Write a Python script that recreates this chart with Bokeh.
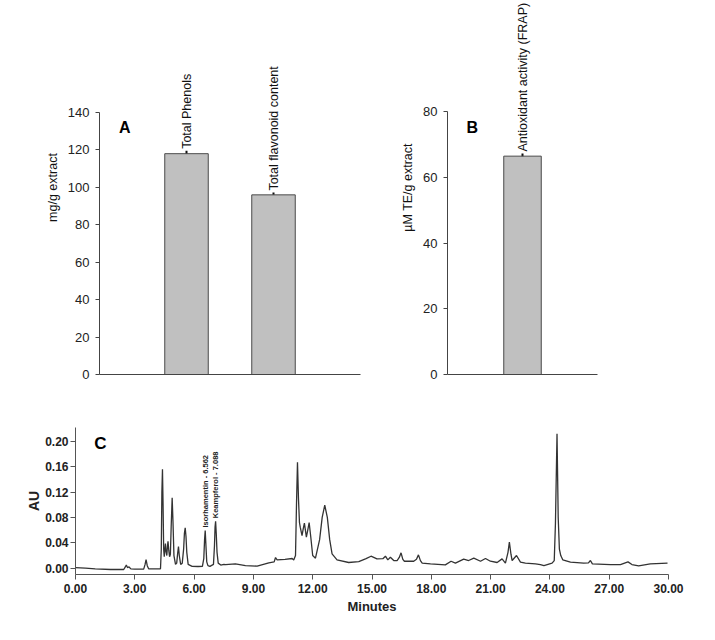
import numpy as np
from bokeh.plotting import figure
from bokeh.layouts import column, row
from bokeh.models import Range1d, FixedTicker, NumeralTickFormatter, Label
from bokeh.core.properties import value
from bokeh.embed import file_html
from bokeh.resources import INLINE

# ---------------- data ----------------
categories_A = ["Total Phenols", "Total flavonoid content"]
values_A = [118.0, 96.0]
errors_A = [1.5, 1.2]
ticks_A = [0, 20, 40, 60, 80, 100, 120, 140]

categories_B = ["Antioxidant activity (FRAP)"]
values_B = [66.5]
errors_B = [0.8]
ticks_B = [0, 20, 40, 60, 80]

rt_min = [0.00, 0.50, 1.00, 1.77, 2.44, 2.52, 2.57, 2.63, 2.71, 2.80, 3.00, 3.45, 3.52, 3.57, 3.63, 3.70, 4.00, 4.30,
          4.34, 4.37, 4.40, 4.43, 4.46, 4.49, 4.52, 4.55, 4.58, 4.62, 4.65, 4.68, 4.72, 4.76, 4.80, 4.84, 4.89, 4.93, 4.98, 5.06,
          5.12, 5.17, 5.21, 5.25, 5.32, 5.40, 5.47, 5.51, 5.55, 5.59, 5.63, 5.70, 5.90, 6.20, 6.42, 6.49, 6.53, 6.562, 6.60, 6.64,
          6.70, 6.80, 6.98, 7.03, 7.06, 7.088, 7.12, 7.16, 7.22, 7.35, 7.51,
          7.59, 8.09, 8.60, 9.19, 9.78, 10.05, 10.12, 10.20, 10.60, 10.96, 11.04, 11.13, 11.18, 11.23, 11.28, 11.33, 11.37,
          11.46, 11.52, 11.58, 11.63, 11.68, 11.75, 11.82, 11.90, 12.00, 12.14, 12.35, 12.48, 12.61, 12.74, 12.86, 12.98, 13.23, 13.82,
          14.33, 14.70, 14.95, 15.25, 15.55, 15.68, 15.80, 15.93, 16.10, 16.27, 16.38, 16.47, 16.56, 16.64, 17.11, 17.25, 17.35,
          17.45, 17.54, 17.96, 18.71, 19.00, 19.22, 19.64, 19.89, 20.15, 20.49, 20.74, 20.99, 21.33, 21.58, 21.75, 21.88, 21.95,
          22.03, 22.09, 22.31, 22.51, 22.76, 23.27, 23.52, 23.70,
          24.11, 24.22, 24.28, 24.36, 24.42, 24.48, 24.55, 24.65, 25.04, 25.71, 25.95, 26.05, 26.15, 27.06, 27.57, 27.95, 28.15,
          28.49, 29.08, 29.95]
au = [0.001, 0.000, -0.001, -0.002, -0.002, 0.002, 0.005, 0.001, 0.002, -0.001, -0.0015, -0.0015, 0.006, 0.0137, 0.004, -0.001, -0.001, -0.001,
      0.030, 0.120, 0.156, 0.100, 0.030, 0.018, 0.030, 0.039, 0.026, 0.020, 0.034, 0.0425, 0.028, 0.018, 0.022, 0.065, 0.111, 0.075, 0.020, 0.006,
      0.008, 0.024, 0.034, 0.020, 0.006, 0.008, 0.030, 0.055, 0.0636, 0.050, 0.025, 0.006, 0.003, 0.0027, 0.003, 0.015, 0.045, 0.0594, 0.035, 0.010,
      0.004, 0.003, 0.006, 0.035, 0.065, 0.074, 0.055, 0.025, 0.008, 0.005, 0.006,
      0.0058, 0.0069, 0.0042, 0.0032, 0.0085, 0.0100, 0.0168, 0.0132, 0.0140, 0.0153, 0.0130, 0.0200, 0.1000, 0.1670, 0.1100, 0.0720, 0.0646,
      0.0515, 0.0620, 0.0709, 0.0600, 0.0489, 0.0600, 0.0720, 0.0500, 0.0200, 0.0158, 0.0450, 0.0800, 0.0992, 0.0800, 0.0450, 0.0226, 0.0132, 0.0090,
      0.0105, 0.0150, 0.0189, 0.0147, 0.0150, 0.0189, 0.0132, 0.0173, 0.0121, 0.0121, 0.0170, 0.0242, 0.0140, 0.0110, 0.0110, 0.0140, 0.0210,
      0.0120, 0.0079, 0.0069, 0.0053, 0.0110, 0.0079, 0.0142, 0.0121, 0.0158, 0.0110, 0.0153, 0.0110, 0.0090, 0.0147, 0.0079, 0.0250, 0.0410,
      0.0220, 0.0121, 0.0200, 0.0095, 0.0079, 0.0069, 0.0058, 0.0042,
      0.0079, 0.0120, 0.0700, 0.2116, 0.0800, 0.0300, 0.0200, 0.0132, 0.0095, 0.0079, 0.0085, 0.0121, 0.0069, 0.0058, 0.0058, 0.0100, 0.0058,
      0.0037, 0.0069, 0.0079]
peak_labels = ["Isorhamentin - 6.562", "Keampferol - 7.088"]
peak_rt = [6.562, 7.088]
ticks_C_x = [0, 3, 6, 9, 12, 15, 18, 21, 24, 27, 30]
ticks_C_y = [0.00, 0.04, 0.08, 0.12, 0.16, 0.20]

FONT = "Liberation Sans"
AXC = "#444444"


def clean(p):
    p.xgrid.visible = False
    p.ygrid.visible = False
    p.outline_line_color = None
    p.background_fill_color = "white"
    p.border_fill_color = "white"


def bar_panel(cats, vals, errs, ticks, ymax, xmax, ylab, letter, letter_xy,
              width, mbl, mbr, txt_size):
    p = figure(width=width, height=390, x_range=Range1d(0, xmax), y_range=Range1d(0, ymax),
               output_backend="svg", toolbar_location=None,
               min_border_left=mbl, min_border_right=mbr, min_border_top=0, min_border_bottom=16)
    clean(p)
    xs = [i + 1 for i in range(len(cats))]
    lo = [v - e for v, e in zip(vals, errs)]
    hi = [v + e for v, e in zip(vals, errs)]
    p.segment(x0=xs, y0=lo, x1=xs, y1=hi, line_color="#111111", line_width=2)
    p.vbar(x=xs, top=vals, bottom=0, width=0.5, fill_color="#c0c0c0", line_color="#4a4a4a", line_width=1)
    p.text(x=xs, y=hi, text=cats, angle=np.pi / 2, text_align="left", text_baseline="middle",
           text_font=value(FONT), text_font_size=txt_size, text_color="#111111", y_offset=-2)
    p.add_layout(Label(x=letter_xy[0], y=letter_xy[1], text=letter, text_font=FONT, text_font_size="16px",
                       text_font_style="bold", text_color="#000000", text_align="center", text_baseline="middle"))
    ya = p.yaxis[0]
    ya.ticker = FixedTicker(ticks=ticks)
    ya.bounds = (0, ticks[-1])
    ya.axis_line_color = AXC
    ya.major_tick_line_color = AXC
    ya.major_tick_out = 4
    ya.major_tick_in = 0
    ya.minor_tick_out = 0
    ya.minor_tick_in = 0
    ya.major_label_text_font = FONT
    ya.major_label_text_font_size = "13px"
    ya.major_label_text_color = "#222222"
    ya.major_label_standoff = 6
    ya.axis_label = ylab
    ya.axis_label_text_font = FONT
    ya.axis_label_text_font_size = "12.5px"
    ya.axis_label_text_font_style = "normal"
    ya.axis_label_text_color = "#111111"
    ya.axis_label_standoff = 5
    xa = p.xaxis[0]
    xa.ticker = FixedTicker(ticks=[])
    xa.major_tick_out = 0
    xa.major_tick_in = 0
    xa.minor_tick_out = 0
    xa.minor_tick_in = 0
    xa.major_label_text_font_size = "0px"
    xa.axis_line_color = AXC
    return p


pA = bar_panel(categories_A, values_A, errors_A, ticks_A, 199.85, 3, "mg/g extract", "A", (0.29, 132),
               372, 99, 12, "12.5px")
pB = bar_panel(categories_B, values_B, errors_B, ticks_B, 113.9, 2, "\u00b5M TE/g extract", "B", (0.33, 75.2),
               328, 75, 103, "12.5px")

# ---------------- panel C ----------------
pC = figure(width=700, height=242, x_range=Range1d(0, 30), y_range=Range1d(-0.0099, 0.2216),
            output_backend="svg", toolbar_location=None,
            min_border_left=75, min_border_right=32, min_border_top=37, min_border_bottom=58)
clean(pC)
pC.line(x=rt_min, y=au, line_color="#333333", line_width=1.3)
peak_h = list(np.interp(peak_rt, rt_min, au))
pC.text(x=peak_rt, y=peak_h, text=peak_labels, angle=np.pi / 2, text_align="left", text_baseline="middle",
        text_font=value(FONT), text_font_size="7.5px", text_font_style="bold", text_color="#222222", y_offset=-3)
pC.add_layout(Label(x=1.26, y=0.196, text="C", text_font=FONT, text_font_size="17px", text_font_style="bold",
                    text_color="#000000", text_align="center", text_baseline="middle"))
CAX = "#555555"
xa = pC.xaxis[0]
xa.ticker = FixedTicker(ticks=ticks_C_x)
xa.formatter = NumeralTickFormatter(format="0.00")
xa.axis_line_color = CAX
xa.major_tick_line_color = CAX
xa.major_tick_out = 5
xa.major_tick_in = 0
xa.minor_tick_out = 0
xa.minor_tick_in = 0
xa.major_label_text_font = FONT
xa.major_label_text_font_size = "12px"
xa.major_label_text_font_style = "bold"
xa.major_label_text_color = "#222222"
xa.major_label_standoff = 4
xa.axis_label = "Minutes"
xa.axis_label_text_font = FONT
xa.axis_label_text_font_size = "13px"
xa.axis_label_text_font_style = "bold"
xa.axis_label_text_color = "#222222"
xa.axis_label_standoff = 3
ya = pC.yaxis[0]
ya.ticker = FixedTicker(ticks=ticks_C_y)
ya.formatter = NumeralTickFormatter(format="0.00")
ya.axis_line_color = CAX
ya.major_tick_line_color = CAX
ya.major_tick_out = 5
ya.major_tick_in = 0
ya.minor_tick_out = 0
ya.minor_tick_in = 0
ya.major_label_text_font = FONT
ya.major_label_text_font_size = "12px"
ya.major_label_text_font_style = "bold"
ya.major_label_text_color = "#222222"
ya.major_label_standoff = 2
ya.axis_label = "AU"
ya.axis_label_text_font = FONT
ya.axis_label_text_font_size = "14px"
ya.axis_label_text_font_style = "bold"
ya.axis_label_text_color = "#222222"
ya.axis_label_standoff = 0

layout = column(row(pA, pB), pC)
open("out.html", "w").write(file_html(layout, INLINE))
